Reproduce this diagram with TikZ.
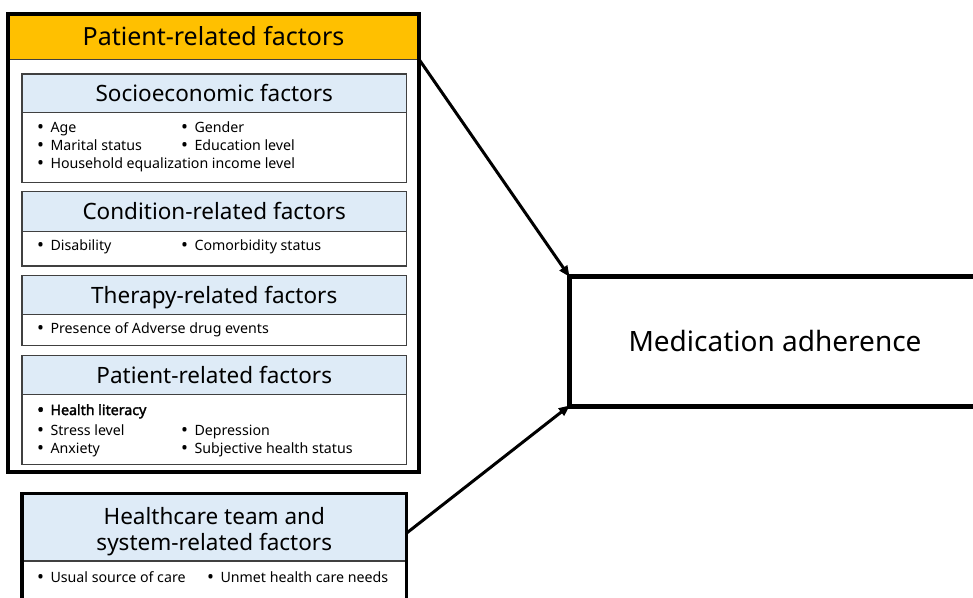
\documentclass[tikz,border=0pt]{standalone}
\usepackage{fontspec}
\setmainfont{Noto Sans}
\newfontfamily\boldish{Noto Sans}[FakeBold=2.2]
\usetikzlibrary{arrows.meta}
\definecolor{hdrorange}{HTML}{FFC000}
\definecolor{hdrblue}{HTML}{DEEBF7}
\definecolor{boxgray}{HTML}{404040}
\newcommand\bul{\raisebox{-0.09em}{\scalebox{1.3}{•}}\hspace{0.45em}}
\tikzset{
  box/.style={draw=boxgray, line width=1.4pt, anchor=north west, inner sep=0pt, outer sep=0pt},
  hdr/.style={box, fill=hdrblue, font=\fontsize{22.5}{26}\selectfont, text height=16.1pt, text depth=0pt},
  item/.style={anchor=base west, inner sep=0pt, font=\fontsize{14.2}{16}\selectfont},
  conn/.style={-{Triangle[length=11pt,width=9pt]}, line width=3pt, shorten >=-1pt},
}
\begin{document}
\begin{tikzpicture}[x=1pt,y=-1pt]
\useasboundingbox (0,0) rectangle (973,597);
\clip (0,0) rectangle (973,597);
% outer patient box
\node[anchor=north west, fill=hdrorange, minimum width=411pt, minimum height=45.3pt, inner sep=0pt, outer sep=0pt,
      font=\fontsize{25}{29}\selectfont, text height=17.9pt, text depth=0pt] (pHdr) at (8,14) {Patient-related factors};
\draw[boxgray, line width=1.4pt] (pHdr.south west) -- (pHdr.south east);
\node[draw, line width=4pt, anchor=north west, minimum width=411pt, minimum height=457.5pt, inner sep=0pt, outer sep=0pt] (pBox) at (8,14) {};
% socioeconomic
\node[box, minimum width=384.5pt, minimum height=108.7pt] (sBox) at (22,74) {};
\node[hdr, minimum width=384.5pt, minimum height=38.7pt] (sHdr) at (22,74) {Socioeconomic factors};
\node[item] (s1) at (37,132) {\bul Age};
\node[item] (s2) at (181,132) {\bul Gender};
\node[item] (s3) at (37,150) {\bul Marital status};
\node[item] (s4) at (181,150) {\bul Education level};
\node[item] (s5) at (37,168) {\bul Household equalization income level};
% condition
\node[box, minimum width=384.5pt, minimum height=74.3pt] (cBox) at (22,191.7) {};
\node[hdr, minimum width=384.5pt, minimum height=40pt] (cHdr) at (22,191.7) {Condition-related factors};
\node[item] (c1) at (37,250.7) {\bul Disability};
\node[item] (c2) at (181,250.7) {\bul Comorbidity status};
% therapy
\node[box, minimum width=384.5pt, minimum height=70pt] (tBox) at (22,275.7) {};
\node[hdr, minimum width=384.5pt, minimum height=38.6pt] (tHdr) at (22,275.7) {Therapy-related factors};
\node[item] (t1) at (37,333) {\bul Presence of Adverse drug events};
% patient
\node[box, minimum width=384.5pt, minimum height=108.6pt] (qBox) at (22,355.7) {};
\node[hdr, minimum width=384.5pt, minimum height=38.6pt] (qHdr) at (22,355.7) {Patient-related factors};
\node[item, font=\fontsize{14.2}{16}\boldish] (q1) at (37,415) {\bul Health literacy};
\node[item] (q2) at (37,435) {\bul Stress level};
\node[item] (q3) at (181,435) {\bul Depression};
\node[item] (q4) at (37,453) {\bul Anxiety};
\node[item] (q5) at (181,453) {\bul Subjective health status};
% healthcare team
\node[anchor=north west, fill=hdrblue, minimum width=384.5pt, minimum height=67.7pt, inner sep=0pt, outer sep=0pt] (hHdr) at (22,493.3) {};
\node[align=center, inner sep=0pt, font=\fontsize{22.5}{26}\selectfont] (hTxt) at ([yshift=-4.5pt]hHdr.center) {Healthcare team and\\system-related factors};
\draw[boxgray, line width=1.4pt] (hHdr.south west) -- (hHdr.south east);
\node[draw, line width=3.5pt, anchor=north west, minimum width=384.5pt, minimum height=120pt, inner sep=0pt, outer sep=0pt] (hBox) at (22,493.3) {};
\node[item] (h1) at (37,582) {\bul Usual source of care};
\node[item] (h2) at (207,582) {\bul Unmet health care needs};
% medication adherence
\node[draw, line width=5pt, anchor=north west, minimum width=412pt, minimum height=130pt, inner sep=0pt, outer sep=0pt,
      font=\fontsize{28}{32}\selectfont, text height=20pt, text depth=0pt] (med) at (569,276) {Medication adherence};
% connectors
\draw[conn] (pHdr.south east) -- (med.north west);
\draw[conn] ([yshift=-6pt]hHdr.east) -- (med.south west);
\end{tikzpicture}
\end{document}
